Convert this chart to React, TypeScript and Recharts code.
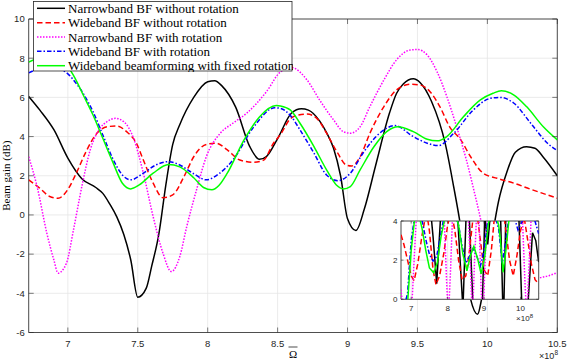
import { LineChart, Line, XAxis, YAxis, CartesianGrid, ReferenceArea } from "recharts";

// ---- main plot data (x in units of 1e8) ----
const nbNoRotX = [6.72, 6.8, 6.9, 7.0, 7.1, 7.2, 7.25, 7.3, 7.35, 7.4, 7.45, 7.5, 7.56, 7.6, 7.65, 7.7, 7.75, 7.8, 7.9, 8.0, 8.05, 8.1, 8.2, 8.3, 8.37, 8.42, 8.5, 8.6, 8.67, 8.72, 8.8, 8.85, 8.9, 8.95, 9.0, 9.06, 9.12, 9.2, 9.3, 9.35, 9.4, 9.47, 9.52, 9.6, 9.7, 9.76, 9.8, 9.88, 9.93, 9.96, 10.03, 10.08, 10.14, 10.2, 10.28, 10.34, 10.4, 10.5];
const nbNoRotY = [6.05, 5.35, 4.35, 2.9, 1.85, 1.4, 1.1, 0.55, -0.1, -1.0, -2.3, -4.2, -3.75, -2.6, -1.0, 1.5, 3.6, 4.6, 6.0, 6.8, 6.85, 6.6, 5.5, 3.5, 2.84, 2.98, 3.9, 5.2, 5.42, 5.35, 4.8, 4.2, 3.4, 2.0, -0.2, -0.8, 0.3, 2.5, 5.2, 6.2, 6.7, 6.95, 6.75, 5.8, 3.6, 1.4, -0.2, -4.3, -5.07, -4.25, -1.3, 0.7, 2.2, 3.2, 3.48, 3.4, 2.95, 2.0];

const wbNoRotX = [6.72, 6.8, 6.87, 6.93, 7.0, 7.06, 7.13, 7.2, 7.28, 7.35, 7.42, 7.49, 7.54, 7.61, 7.68, 7.75, 7.83, 7.9, 7.99, 8.06, 8.14, 8.23, 8.33, 8.4, 8.47, 8.52, 8.59, 8.65, 8.71, 8.78, 8.85, 8.93, 8.99, 9.03, 9.09, 9.16, 9.26, 9.35, 9.45, 9.52, 9.59, 9.66, 9.73, 9.81, 9.88, 9.97, 10.07, 10.19, 10.31, 10.43, 10.5];
const wbNoRotY = [1.79, 1.36, 0.94, 0.85, 1.3, 2.13, 3.23, 4.1, 4.5, 4.54, 4.25, 3.66, 2.8, 1.62, 0.88, 1.02, 1.95, 2.97, 3.6, 3.66, 3.32, 2.8, 2.69, 2.8, 3.66, 4.1, 4.9, 5.1, 5.15, 4.93, 4.17, 3.15, 2.55, 2.5, 2.97, 4.17, 5.53, 6.38, 6.67, 6.63, 6.29, 5.53, 4.5, 3.83, 2.97, 2.13, 1.87, 1.62, 1.31, 1.02, 0.85];

const nbRotX = [6.72, 6.78, 6.85, 6.9, 6.93, 6.99, 7.04, 7.1, 7.16, 7.23, 7.28, 7.34, 7.4, 7.47, 7.54, 7.61, 7.68, 7.74, 7.8, 7.85, 7.92, 7.99, 8.09, 8.18, 8.28, 8.42, 8.52, 8.6, 8.71, 8.8, 8.9, 8.97, 9.02, 9.09, 9.16, 9.26, 9.35, 9.45, 9.5, 9.57, 9.64, 9.71, 9.78, 9.85, 9.92, 10.0, 10.1, 10.2, 10.3, 10.38, 10.44, 10.5];
const nbRotY = [2.97, 1.45, -0.94, -2.3, -2.97, -2.46, -0.77, 1.45, 3.32, 4.42, 4.76, 4.93, 4.76, 3.91, 2.13, -0.09, -1.95, -2.89, -2.13, -0.6, 1.28, 2.97, 4.17, 4.68, 5.2, 6.29, 7.3, 7.52, 6.89, 5.87, 4.85, 4.25, 4.17, 4.5, 5.53, 6.89, 7.91, 8.42, 8.44, 8.16, 7.31, 6.04, 4.5, 2.8, 0.77, -1.6, -3.0, -3.6, -3.5, -3.2, -3.1, -2.94];

const wbRotX = [6.72, 6.8, 6.9, 7.0, 7.05, 7.11, 7.18, 7.25, 7.32, 7.39, 7.45, 7.54, 7.63, 7.72, 7.8, 7.9, 7.99, 8.08, 8.18, 8.33, 8.48, 8.52, 8.6, 8.66, 8.76, 8.85, 8.93, 9.02, 9.11, 9.23, 9.34, 9.47, 9.57, 9.65, 9.76, 9.9, 10.02, 10.09, 10.19, 10.31, 10.43, 10.5];
const wbRotY = [7.25, 7.45, 7.5, 7.2, 6.8, 6.2, 5.27, 4.08, 2.89, 2.04, 1.79, 2.13, 2.55, 2.72, 2.55, 2.1, 1.79, 2.1, 2.8, 4.5, 5.47, 5.44, 5.0, 4.34, 3.15, 2.04, 1.75, 2.13, 3.15, 4.17, 4.56, 4.0, 3.66, 3.54, 4.17, 5.36, 5.95, 6.0, 5.7, 4.68, 3.66, 3.28];

const wbFixX = [6.72, 6.8, 6.9, 7.0, 7.05, 7.11, 7.18, 7.25, 7.32, 7.39, 7.45, 7.51, 7.61, 7.72, 7.8, 7.9, 7.97, 8.03, 8.08, 8.14, 8.26, 8.37, 8.49, 8.52, 8.59, 8.66, 8.76, 8.85, 8.92, 8.97, 9.02, 9.09, 9.19, 9.28, 9.36, 9.47, 9.57, 9.64, 9.71, 9.83, 9.95, 10.04, 10.1, 10.19, 10.28, 10.4, 10.5];
const wbFixY = [7.8, 8.0, 7.95, 7.55, 7.0, 6.12, 5.1, 3.91, 2.72, 1.62, 1.33, 1.53, 2.13, 2.57, 2.45, 1.9, 1.4, 1.28, 1.5, 2.13, 3.83, 5.0, 5.58, 5.56, 5.36, 4.68, 3.49, 2.3, 1.53, 1.33, 1.45, 2.3, 3.49, 4.25, 4.5, 4.25, 3.86, 3.78, 4.0, 5.02, 5.87, 6.21, 6.34, 6.12, 5.53, 4.5, 3.83];

// ---- inset data (zoomed 0..4 dB view) ----
const insetBlack = [[6.72, 6], [7.0, 6], [7.3, 5.8], [7.5, 5.2], [7.6, 3.2], [7.7, 0.8], [7.8, 4.0], [7.9, 6], [8.1, 6.5], [8.25, 5], [8.42, -0.5], [8.52, 5], [8.58, 4.8], [8.7, -0.5], [8.85, -2], [8.95, -0.5], [9.02, 4.3], [9.1, 2.8], [9.18, 4.5], [9.3, 6], [9.45, 4.5], [9.53, -1.5], [9.6, 4.5], [9.8, 6], [9.95, 4.5], [10.05, -1], [10.18, -1], [10.33, 3.4], [10.42, 3.0], [10.5, 1.9]];
const insetRed = [[6.72, 3.3], [6.8, 2.8], [6.9, 2.0], [7.0, 1.2], [7.08, 0.95], [7.18, 1.8], [7.3, 3.3], [7.42, 4.5], [7.5, 3.5], [7.6, 1.5], [7.68, 0.75], [7.78, 1.2], [7.9, 2.4], [8.0, 3.8], [8.1, 4.5], [8.2, 3.5], [8.3, 2.0], [8.4, 1.0], [8.5, 1.2], [8.6, 2.5], [8.7, 4.2], [8.8, 4.5], [8.9, 3.0], [9.0, 1.5], [9.1, 1.2], [9.2, 2.5], [9.3, 4.5], [9.5, 5], [9.6, 3.5], [9.7, 2.0], [9.8, 1.2], [9.9, 2.2], [10.0, 3.5], [10.1, 4.2], [10.2, 3.0], [10.3, 1.8], [10.4, 1.0], [10.5, 0.8]];
const insetMagenta = [[6.72, 0.5], [6.8, -1], [6.9, -2], [7.0, -1], [7.08, 2], [7.15, 4.5], [7.3, 6], [7.6, 5.5], [7.9, 4.5], [7.97, 1], [8.02, -1], [8.08, 1.5], [8.14, 4.5], [8.35, 6], [8.55, 5], [8.62, 2], [8.68, -1], [8.74, 2], [8.8, 4.5], [8.86, 4.2], [8.92, 0.5], [8.97, -1], [9.03, 2], [9.1, 5], [9.5, 7], [9.9, 5], [10.05, 4.3], [10.12, 1], [10.17, -1], [10.23, 1.5], [10.3, 4.5], [10.5, 6]];
const insetBlue = [[6.72, -1], [6.9, 0.3], [7.0, 3.0], [7.1, 4.3], [7.2, 4.5], [7.3, 4.0], [7.42, 2.9], [7.5, 2.3], [7.6, 1.95], [7.7, 2.2], [7.8, 3.2], [7.9, 4.2], [8.1, 4.9], [8.3, 3.8], [8.4, 2.7], [8.5, 1.85], [8.6, 2.2], [8.7, 2.6], [8.8, 2.2], [8.9, 1.7], [9.0, 2.5], [9.1, 4.0], [9.25, 4.6], [9.4, 3.6], [9.5, 1.85], [9.58, 2.8], [9.67, 4.0], [9.8, 4.4], [9.93, 3.55], [10.05, 4.0], [10.2, 4.6], [10.35, 4.3], [10.5, 3.35]];
const insetGreen = [[6.72, -1.5], [6.9, -0.2], [7.0, 2.5], [7.1, 4.2], [7.2, 4.4], [7.3, 3.6], [7.4, 2.5], [7.5, 1.6], [7.62, 1.35], [7.72, 1.9], [7.82, 3.2], [7.93, 4.2], [8.1, 5], [8.3, 3.8], [8.42, 2.3], [8.53, 1.45], [8.62, 2.2], [8.72, 2.7], [8.82, 2.1], [8.92, 1.3], [9.02, 2.2], [9.12, 3.9], [9.25, 4.7], [9.4, 3.8], [9.45, 3.0], [9.52, 1.38], [9.6, 2.5], [9.68, 4.0], [9.8, 4.6], [9.92, 4.1], [10.0, 4.3], [10.2, 5], [10.5, 4.5]];

const xTicks = [7, 7.5, 8, 8.5, 9, 9.5, 10, 10.5];
const yTicks = [-6, -4, -2, 0, 2, 4, 6, 8, 10];
const insetXTicks = [7, 8, 9, 10];
const insetYTicks = [0, 2, 4];

const legendNames = [
  "Narrowband BF without rotation",
  "Wideband BF without rotation",
  "Narrowband BF with rotation",
  "Wideband BF with rotation",
  "Wideband beamforming with fixed rotation",
];

const AXIS = "#262626";
const GRID = "#e6e6e6";
const SANS = "'Liberation Sans', Arial, sans-serif";
const SERIF = "'Liberation Serif', 'Times New Roman', serif";

const styles = [
  { color: "#000000", dash: undefined },
  { color: "#ff0000", dash: "5.5 3" },
  { color: "#ff00ff", dash: "1.5 1.5" },
  { color: "#0000ff", dash: "4.5 2 1.5 2" },
  { color: "#00ff00", dash: undefined },
];

const zip = (xs: number[], ys: number[]) => xs.map((x, i) => ({ x, y: ys[i] }));
const fromPairs = (p: number[][]) => p.map(([x, y]) => ({ x, y }));

const mainSeries = [
  zip(nbNoRotX, nbNoRotY),
  zip(wbNoRotX, wbNoRotY),
  zip(nbRotX, nbRotY),
  zip(wbRotX, wbRotY),
  zip(wbFixX, wbFixY),
];
const insetSeries = [insetBlack, insetRed, insetMagenta, insetBlue, insetGreen].map(fromPairs);

// chart sizes: plot box of main axes and inset axes (local coords)
const MAIN = { left: 28.7, top: 19, right: 557.3, bottom: 332.5 };
const INSET_POS = { left: 380, top: 210, width: 170, height: 120 };
const INSET = { left: 21, top: 11, right: 158.7, bottom: 89.3 };
const TL = 5;

const makeYTick = (box: any, fs: number, gap: number, tl: number) => (props: any) => {
  const { y, payload } = props;
  return (
    <g>
      <line x1={box.left} x2={box.left + tl} y1={y} y2={y} stroke={AXIS} strokeWidth={0.6} />
      <line x1={box.right - tl} x2={box.right} y1={y} y2={y} stroke={AXIS} strokeWidth={0.6} />
      <text x={box.left - gap} y={y} dy="0.35em" textAnchor="end" fontSize={fs} fill={AXIS} fontFamily={SANS}>
        {payload.value}
      </text>
    </g>
  );
};

const makeXTick = (box: any, fs: number, off: number, tl: number) => (props: any) => {
  const { x, payload } = props;
  return (
    <g>
      <line x1={x} x2={x} y1={box.bottom - tl} y2={box.bottom} stroke={AXIS} strokeWidth={0.6} />
      <line x1={x} x2={x} y1={box.top} y2={box.top + tl} stroke={AXIS} strokeWidth={0.6} />
      <text x={x} y={box.bottom + off} textAnchor="middle" fontSize={fs} fill={AXIS} fontFamily={SANS}>
        {payload.value}
      </text>
    </g>
  );
};

const App = () => {
  return (
    <div style={{ position: "absolute", left: 0, top: 0, width: 568, height: 362, background: "#fff" }}>
      {/* MAIN AXES */}
      <div style={{ position: "absolute", left: 0, top: 0 }}>
        <LineChart width={568} height={362} margin={{ top: MAIN.top, right: 568 - MAIN.right, left: 0, bottom: 0 }}>
          <CartesianGrid stroke={GRID} strokeWidth={0.8} />
          <XAxis
            dataKey="x"
            type="number"
            domain={[6.72, 10.5]}
            ticks={xTicks}
            allowDataOverflow
            height={362 - MAIN.bottom}
            axisLine={false}
            tickLine={false}
            tick={makeXTick(MAIN, 9.5, 14, TL)}
            interval={0}
          />
          <YAxis
            type="number"
            domain={[-6, 10]}
            ticks={yTicks}
            allowDataOverflow
            width={MAIN.left}
            axisLine={false}
            tickLine={false}
            tick={makeYTick(MAIN, 9.5, 4, TL)}
            interval={0}
          />
          {mainSeries.map((d, i) => (
            <Line
              key={i}
              data={d}
              dataKey="y"
              type="monotone"
              stroke={styles[i].color}
              strokeDasharray={styles[i].dash}
              strokeWidth={1.5}
              dot={false}
              isAnimationActive={false}
            />
          ))}
          <ReferenceArea x1={6.72} x2={10.5} y1={-6} y2={10} fill="none" stroke={AXIS} strokeWidth={0.8} ifOverflow="visible" />
        </LineChart>
      </div>

      {/* INSET AXES */}
      <div style={{ position: "absolute", left: INSET_POS.left, top: INSET_POS.top }}>
        <LineChart
          width={INSET_POS.width}
          height={INSET_POS.height}
          margin={{ top: INSET.top, right: INSET_POS.width - INSET.right, left: 0, bottom: 0 }}
        >
          <CartesianGrid stroke={GRID} strokeWidth={0.8} fill="#fff" />
          <XAxis
            dataKey="x"
            type="number"
            domain={[6.72, 10.5]}
            ticks={insetXTicks}
            allowDataOverflow
            height={INSET_POS.height - INSET.bottom}
            axisLine={false}
            tickLine={false}
            tick={makeXTick(INSET, 8, 11.5, 2.5)}
            interval={0}
          />
          <YAxis
            type="number"
            domain={[0, 4]}
            ticks={insetYTicks}
            allowDataOverflow
            width={INSET.left}
            axisLine={false}
            tickLine={false}
            tick={makeYTick(INSET, 8, 3.5, 2.5)}
            interval={0}
          />
          {insetSeries.map((d, i) => (
            <Line
              key={i}
              data={d}
              dataKey="y"
              type="linear"
              stroke={styles[i].color}
              strokeDasharray={styles[i].dash}
              strokeWidth={1.5}
              dot={false}
              isAnimationActive={false}
            />
          ))}
          <ReferenceArea x1={6.72} x2={10.5} y1={0} y2={4} fill="none" stroke={AXIS} strokeWidth={0.8} ifOverflow="visible" />
        </LineChart>
      </div>

      {/* AXIS LABELS AND EXPONENTS */}
      <svg width={568} height={362} style={{ position: "absolute", left: 0, top: 0, pointerEvents: "none" }}>
        <text
          transform="translate(5.5,175.7) rotate(-90)"
          textAnchor="middle"
          dominantBaseline="central"
          fontSize={11}
          fontFamily={SERIF}
          fill="#000"
        >
          Beam gain (dB)
        </text>
        <text x={293} y={358} textAnchor="middle" fontSize={11} fontFamily={SERIF} fill="#000">
          Ω
        </text>
        <line x1={288.5} x2={297.5} y1={347} y2={347} stroke="#000" strokeWidth={0.7} />
        <text x={558} y={359} textAnchor="end" fontSize={9} fontFamily={SANS} fill={AXIS}>
          ×10<tspan dy={-4} fontSize={6.5}>8</tspan>
        </text>
        <text x={533} y={321} textAnchor="end" fontSize={8} fontFamily={SANS} fill={AXIS}>
          ×10<tspan dy={-3.5} fontSize={6}>8</tspan>
        </text>
      </svg>

      {/* LEGEND */}
      <svg width={260} height={71} style={{ position: "absolute", left: 33, top: 1 }}>
        <rect x={0.5} y={0.5} width={258.5} height={69.5} fill="#fff" stroke={AXIS} strokeWidth={0.8} />
        {legendNames.map((name, i) => {
          const cy = 7.3 + i * 14.35;
          return (
            <g key={name}>
              <line x1={4} x2={32} y1={cy} y2={cy} stroke={styles[i].color} strokeDasharray={styles[i].dash} strokeWidth={1.5} />
              <text x={35} y={cy} dominantBaseline="central" fontSize={13} fontFamily={SERIF} fill="#000">
                {name}
              </text>
            </g>
          );
        })}
      </svg>
    </div>
  );
};

export default App;
